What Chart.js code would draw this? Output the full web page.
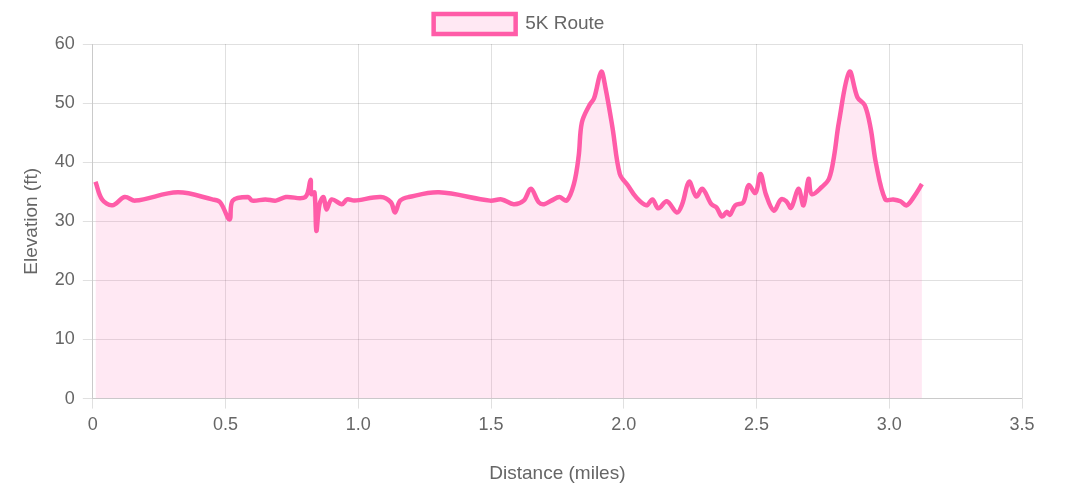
<!DOCTYPE html>
<html><head><meta charset="utf-8">
<script src="https://cdn.jsdelivr.net/npm/chart.js@4"></script>
<style>html,body{margin:0;padding:0;background:#fff}#w{width:1084px;height:503px}</style>
</head><body><div id="w"><canvas id="c"></canvas></div>
<script>
const distances = [0.01,0.035,0.073,0.12,0.16,0.32,0.45,0.48,0.515,0.527,0.585,0.6,0.65,0.69,0.727,0.80,0.82,0.823,0.835,0.842,0.854,0.869,0.88,0.9,0.938,0.958,0.985,1.085,1.123,1.138,1.158,1.19,1.304,1.496,1.54,1.585,1.623,1.65,1.68,1.70,1.727,1.758,1.785,1.812,1.83,1.842,1.87,1.888,1.915,1.931,1.958,1.985,2.015,2.046,2.085,2.108,2.13,2.162,2.2,2.22,2.246,2.273,2.296,2.33,2.35,2.37,2.388,2.4,2.42,2.45,2.47,2.496,2.515,2.535,2.565,2.592,2.612,2.63,2.658,2.677,2.696,2.708,2.746,2.773,2.792,2.81,2.85,2.88,2.908,2.93,2.95,2.985,3.015,3.042,3.065,3.092,3.123];
const elevations = [36.7,33.7,32.7,34.1,33.5,34.9,33.7,33.2,30.3,33.5,34.1,33.5,33.7,33.5,34.1,34.1,37.0,34.6,34.9,28.4,32.9,34.1,32.0,33.7,32.9,33.7,33.5,34.1,33.2,31.5,33.5,34.1,34.9,33.5,33.7,32.9,33.5,35.5,33.2,32.9,33.5,34.1,33.5,36.3,41.0,46.7,49.6,50.8,55.3,52.6,45.7,38.0,36.1,34.1,32.7,33.7,32.2,33.4,31.5,32.9,36.7,34.2,35.5,32.9,32.3,30.8,31.6,31.1,32.7,33.2,36.1,34.8,38.0,34.6,31.8,33.7,33.4,32.3,35.5,32.7,37.2,34.6,35.8,37.2,41.0,46.7,55.3,51.0,49.6,45.7,39.8,33.7,33.7,33.4,32.7,34.1,36.3];
const seriesLabel = '5K Route';
const xTicks = [0,0.5,1.0,1.5,2.0,2.5,3.0,3.5];
const yTicks = [0,10,20,30,40,50,60];

Chart.defaults.font.family = 'Helvetica, Arial, "Liberation Sans", sans-serif';
Chart.defaults.color = '#666';
new Chart(document.getElementById('c'), {
  type: 'line',
  data: { datasets: [{
    label: seriesLabel,
    data: distances.map((d,i)=>({x:d,y:elevations[i]})),
    borderColor: '#ff5ca8', backgroundColor: 'rgba(255,92,168,0.14)',
    borderWidth: 4.5, pointRadius: 0, fill: true, tension: 0.35
  }]},
  options: {
    responsive: true, maintainAspectRatio: false, animation: false,
    layout: { padding: { left: 16, right: 62, bottom: 14 } },
    plugins: { legend: { labels: { font: { size: 19 }, boxWidth: 82, boxHeight: 20, padding: 14 } }, tooltip: { enabled: false } },
    scales: {
      x: { type: 'linear', min: 0, max: 3.5,
        afterBuildTicks: ax => { ax.ticks = xTicks.map(v=>({value:v})); },
        ticks: { font: { size: 18 }, padding: 6 },
        title: { display: true, text: 'Distance (miles)', font: { size: 19 }, padding: { top: 20 } },
        grid: { color: 'rgba(0,0,0,0.12)', tickLength: 10 } },
      y: { min: 0, max: 60,
        afterBuildTicks: ax => { ax.ticks = yTicks.map(v=>({value:v})); },
        ticks: { font: { size: 18 }, padding: 8 },
        title: { display: true, text: 'Elevation (ft)', font: { size: 19 } },
        grid: { color: 'rgba(0,0,0,0.12)', tickLength: 10 } }
    }
  }
});
// x tick labels formatted like the reference
Chart.getChart('c').options.scales.x.ticks.callback = v => v===0 ? '0' : v.toFixed(1);
Chart.getChart('c').update();
</script></body></html>
